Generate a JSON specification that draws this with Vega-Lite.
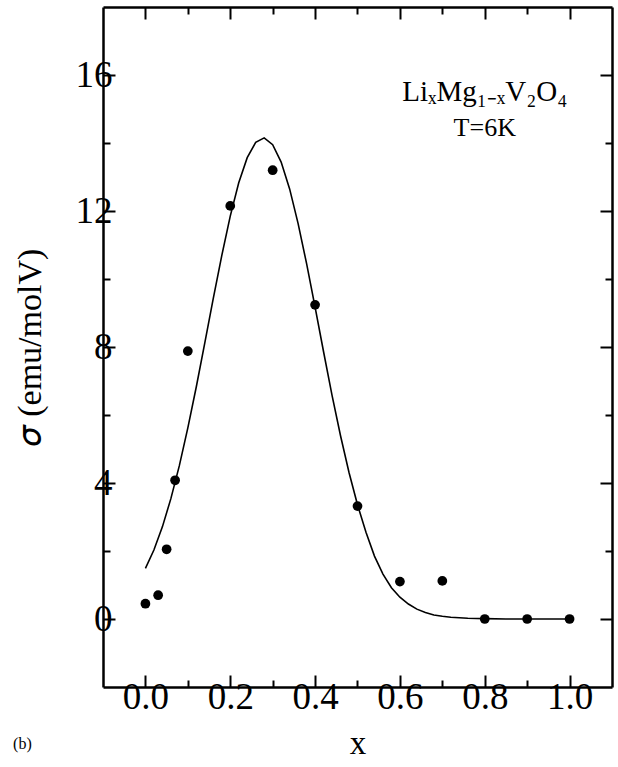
{
  "$schema": "https://vega.github.io/schema/vega-lite/v6.json",
  "width": 509,
  "height": 680,
  "autosize": {"type": "none"},
  "padding": {"left": 103, "top": 7, "right": 6, "bottom": 80},
  "background": "white",
  "config": {"view": {"stroke": null}, "font": "Liberation Serif"},
  "datasets": {
    "points": [
      {"x": 0.0, "sigma": 0.45},
      {"x": 0.03, "sigma": 0.7},
      {"x": 0.05, "sigma": 2.05},
      {"x": 0.07, "sigma": 4.08},
      {"x": 0.1, "sigma": 7.88},
      {"x": 0.2, "sigma": 12.15},
      {"x": 0.3, "sigma": 13.2},
      {"x": 0.4, "sigma": 9.24},
      {"x": 0.5, "sigma": 3.32},
      {"x": 0.6, "sigma": 1.1},
      {"x": 0.7, "sigma": 1.12},
      {"x": 0.8, "sigma": 0.0},
      {"x": 0.9, "sigma": 0.0},
      {"x": 1.0, "sigma": 0.0}
    ],
    "curve": [
      {"x": 0.0, "sigma": 1.49},
      {"x": 0.02, "sigma": 2.03},
      {"x": 0.04, "sigma": 2.71},
      {"x": 0.06, "sigma": 3.54},
      {"x": 0.08, "sigma": 4.51},
      {"x": 0.1, "sigma": 5.62},
      {"x": 0.12, "sigma": 6.83},
      {"x": 0.14, "sigma": 8.12},
      {"x": 0.16, "sigma": 9.43},
      {"x": 0.18, "sigma": 10.69},
      {"x": 0.2, "sigma": 11.85},
      {"x": 0.22, "sigma": 12.83},
      {"x": 0.24, "sigma": 13.57},
      {"x": 0.26, "sigma": 14.02},
      {"x": 0.28, "sigma": 14.15},
      {"x": 0.3, "sigma": 13.95},
      {"x": 0.32, "sigma": 13.44},
      {"x": 0.34, "sigma": 12.65},
      {"x": 0.36, "sigma": 11.63},
      {"x": 0.38, "sigma": 10.45},
      {"x": 0.4, "sigma": 9.17},
      {"x": 0.42, "sigma": 7.86},
      {"x": 0.44, "sigma": 6.58},
      {"x": 0.46, "sigma": 5.39},
      {"x": 0.48, "sigma": 4.31},
      {"x": 0.5, "sigma": 3.36},
      {"x": 0.52, "sigma": 2.55},
      {"x": 0.54, "sigma": 1.85},
      {"x": 0.56, "sigma": 1.32},
      {"x": 0.58, "sigma": 0.92},
      {"x": 0.6, "sigma": 0.64},
      {"x": 0.62, "sigma": 0.44},
      {"x": 0.64, "sigma": 0.29},
      {"x": 0.66, "sigma": 0.19},
      {"x": 0.68, "sigma": 0.12},
      {"x": 0.7, "sigma": 0.08},
      {"x": 0.72, "sigma": 0.05},
      {"x": 0.76, "sigma": 0.02},
      {"x": 0.8, "sigma": 0.01},
      {"x": 0.85, "sigma": 0.0},
      {"x": 0.9, "sigma": 0.0},
      {"x": 1.0, "sigma": 0.0}
    ],
    "labels": [
      {"x": 0.8, "sigma": 15.5, "label": "LiₓMg₁₋ₓV₂O₄", "fs": 29, "font": "Liberation Serif"},
      {"x": 0.8, "sigma": 14.45, "label": "T=6K", "fs": 26, "font": "Liberation Serif"},
      {"x": -0.29, "sigma": -3.68, "label": "(b)", "fs": 16, "font": "Liberation Sans"}
    ]
  },
  "layer": [
    {
      "data": {"name": "curve"},
      "mark": {"type": "line", "color": "black", "strokeWidth": 1.6},
      "encoding": {
        "x": {
          "field": "x", "type": "quantitative",
          "scale": {"domain": [-0.1, 1.1], "nice": false, "zero": false},
          "axis": {
            "orient": "bottom",
            "values": [0, 0.1, 0.2, 0.3, 0.4, 0.5, 0.6, 0.7, 0.8, 0.9, 1.0],
            "labelExpr": "round(datum.value*10)%2==0 ? format(datum.value,'.1f') : ''",
            "tickSize": {"condition": {"test": "round(datum.value*10)%2==0", "value": -12}, "value": -7},
            "tickWidth": 2, "tickColor": "black",
            "domainColor": "black", "domainWidth": 2.5,
            "grid": false,
            "labelFont": "Liberation Serif", "labelFontSize": 37, "labelColor": "black", "labelPadding": 4,
            "title": "x", "titleFont": "Liberation Serif", "titleFontSize": 33, "titleFontWeight": "normal", "titleColor": "black",
            "titleBaseline": "middle", "titleY": 56
          }
        },
        "y": {
          "field": "sigma", "type": "quantitative",
          "scale": {"domain": [-2, 18], "nice": false, "zero": false},
          "axis": {
            "orient": "left",
            "values": [0, 2, 4, 6, 8, 10, 12, 14, 16],
            "labelExpr": "datum.value % 4 == 0 ? format(datum.value,'d') : ''",
            "tickSize": {"condition": {"test": "datum.value % 4 == 0", "value": -12}, "value": -7},
            "tickWidth": 2, "tickColor": "black",
            "domainColor": "black", "domainWidth": 2.5,
            "grid": false,
            "labelFont": "Liberation Serif", "labelFontSize": 37, "labelColor": "black", "labelPadding": 3,
            "title": "𝜎  (emu/molV)", "titleFont": "Liberation Serif", "titleFontSize": 34, "titleFontWeight": "normal", "titleColor": "black",
            "titleBaseline": "middle", "titleX": -73
          }
        }
      }
    },
    {
      "data": {"name": "points"},
      "mark": {"type": "circle", "color": "black", "size": 95, "opacity": 1},
      "encoding": {
        "x": {
          "field": "x", "type": "quantitative",
          "axis": {
            "orient": "top",
            "values": [0, 0.1, 0.2, 0.3, 0.4, 0.5, 0.6, 0.7, 0.8, 0.9, 1.0],
            "labels": false,
            "tickSize": {"condition": {"test": "round(datum.value*10)%2==0", "value": -12}, "value": -7},
            "tickWidth": 2, "tickColor": "black",
            "domainColor": "black", "domainWidth": 2.5,
            "grid": false, "title": null
          }
        },
        "y": {
          "field": "sigma", "type": "quantitative",
          "axis": {
            "orient": "right",
            "values": [0, 2, 4, 6, 8, 10, 12, 14, 16],
            "labels": false,
            "tickSize": {"condition": {"test": "datum.value % 4 == 0", "value": -12}, "value": -7},
            "tickWidth": 2, "tickColor": "black",
            "domainColor": "black", "domainWidth": 2.5,
            "grid": false, "title": null
          }
        }
      }
    },
    {
      "data": {"name": "labels"},
      "mark": {"type": "text", "color": "black", "align": "center", "baseline": "middle"},
      "encoding": {
        "x": {"field": "x", "type": "quantitative", "axis": null},
        "y": {"field": "sigma", "type": "quantitative", "axis": null},
        "text": {"field": "label"},
        "size": {"field": "fs", "type": "quantitative", "scale": null},
        "font": {"field": "font", "type": "nominal", "scale": null, "legend": null}
      }
    }
  ],
  "resolve": {"axis": {"x": "independent", "y": "independent"}}
}
